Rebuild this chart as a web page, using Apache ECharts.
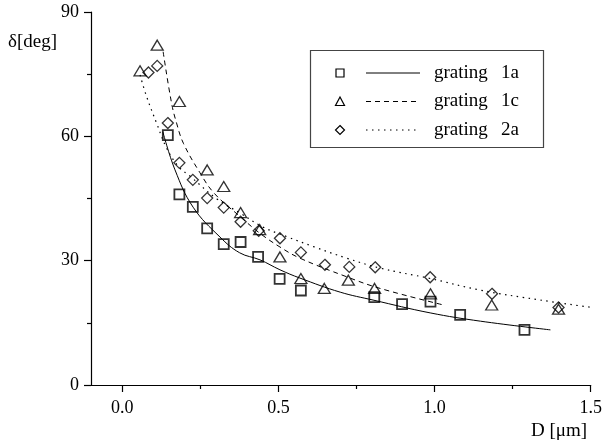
<!DOCTYPE html>
<html><head><meta charset="utf-8">
<script src="https://cdn.jsdelivr.net/npm/echarts@6/dist/echarts.min.js"></script>
<style>html,body{margin:0;padding:0;background:#fff}#c{width:610px;height:447px}</style>
</head><body><div id="c"></div>
<script>
// grating 1a (squares)
const sqX = [0.146,0.183,0.226,0.272,0.325,0.379,0.435,0.504,0.572,0.807,0.896,0.987,1.082,1.288];
const sqY = [60.3,46.0,43.0,37.8,34.0,34.5,30.9,25.6,22.8,21.2,19.5,20.1,16.9,13.3];
// grating 1c (triangles)
const trX = [0.057,0.112,0.183,0.272,0.325,0.379,0.440,0.505,0.572,0.647,0.724,0.808,0.987,1.183,1.397];
const trY = [75.8,82.0,68.4,51.9,47.9,41.6,37.5,30.9,25.7,23.3,25.3,23.3,22.0,19.3,18.3];
// grating 2a (diamonds)
const diX = [0.084,0.112,0.146,0.183,0.226,0.272,0.325,0.379,0.437,0.505,0.572,0.649,0.727,0.810,0.986,1.184,1.397];
const diY = [75.4,77.0,63.2,53.6,49.5,45.1,42.8,39.4,37.2,35.4,32.0,29.0,28.5,28.4,26.0,22.0,18.7];
// fitted curves
const fitAX = [0.130,0.169,0.227,0.313,0.376,0.441,0.505,0.569,0.698,0.803,0.986,1.147,1.371];
const fitAY = [61.1,51.9,42.9,35.7,31.9,30.2,27.8,25.8,22.4,20.5,17.4,15.4,13.3];
const fitCX = [0.131,0.158,0.174,0.196,0.249,0.294,0.378,0.441,0.505,0.569,0.719,0.826,1.029];
const fitCY = [80.4,68.0,63.2,58.3,51.2,46.3,40.6,36.6,33.3,30.6,26.1,23.3,19.3];
const fitDX = [0.057,0.078,0.110,0.142,0.179,0.217,0.303,0.377,0.451,0.527,0.612,0.719,0.826,0.986,1.146,1.339,1.500];
const fitDY = [74.8,69.6,63.2,57.2,52.8,50.4,44.9,41.5,38.1,35.8,33.4,30.6,28.2,25.7,22.9,20.5,18.75];
// ticks
const xMajor = [0, 0.5, 1.0, 1.5];
const xMinor = [0.25, 0.75, 1.25];
const seriesWord = ['grating','grating','grating'];
const seriesId = ['1a','1c','2a'];

const zip = (a,b) => a.map((v,i)=>[v,b[i]]);
const FONT = 'Liberation Serif';
const hollow = {color:'rgba(0,0,0,0)', borderColor:'#000', borderWidth:1.3};

const chart = echarts.init(document.getElementById('c'), null, {renderer:'canvas'});
const legendRows = [73, 101.5, 130];
const graphics = [
  {type:'rect', shape:{x:310.5,y:50.5,width:233,height:97}, style:{fill:'none', stroke:'#444', lineWidth:1.2}},
  {type:'text', style:{text:'δ[deg]', x:8, y:42, font:'19px '+FONT, fill:'#000', textVerticalAlign:'middle'}},
  {type:'text', style:{text:'D [μm]', x:531, y:431, font:'19px '+FONT, fill:'#000', textVerticalAlign:'middle'}}
];
const lineDash = [null, [5,4], [1.5,4.5]];
legendRows.forEach((y,i)=>{
  graphics.push({type:'line', shape:{x1:366,y1:y,x2:420,y2:y}, style:{stroke:'#000', lineWidth:1, lineDash:lineDash[i]}});
  graphics.push({type:'text', style:{text:seriesWord[i], x:434, y:y, font:'19px '+FONT, fill:'#000', textVerticalAlign:'middle'}});
  graphics.push({type:'text', style:{text:seriesId[i], x:501, y:y, font:'19px '+FONT, fill:'#000', textVerticalAlign:'middle'}});
});
graphics.push({type:'rect', shape:{x:336,y:legendRows[0]-4,width:8,height:8}, style:{fill:'none', stroke:'#000', lineWidth:1.2}});
graphics.push({type:'polygon', shape:{points:[[340,legendRows[1]-4.5],[344.5,legendRows[1]+4],[335.5,legendRows[1]+4]]}, style:{fill:'none', stroke:'#000', lineWidth:1.2}});
graphics.push({type:'polygon', shape:{points:[[340,legendRows[2]-4.5],[344.5,legendRows[2]],[340,legendRows[2]+4.5],[335.5,legendRows[2]]]}, style:{fill:'none', stroke:'#000', lineWidth:1.2}});

chart.setOption({
  animation:false,
  grid:{left:91, right:19.3, top:12, bottom:62, containLabel:false},
  xAxis:[{
    type:'value', min:-0.1, max:1.5,
    axisLine:{show:true, onZero:false, lineStyle:{color:'#000', width:1.2}},
    axisTick:{show:true, customValues:xMajor, length:7, lineStyle:{color:'#000', width:1.2}},
    axisLabel:{customValues:xMajor, formatter:v=>v.toFixed(1), color:'#000', fontFamily:FONT, fontSize:18, margin:14},
    splitLine:{show:false}
  },{
    type:'value', min:-0.1, max:1.5, position:'bottom',
    axisLine:{show:false},
    axisTick:{show:true, customValues:xMinor, length:4, lineStyle:{color:'#000', width:1.2}},
    axisLabel:{show:false}, splitLine:{show:false}
  }],
  yAxis:{
    type:'value', min:0, max:90, interval:30,
    axisLine:{show:true, onZero:false, lineStyle:{color:'#000', width:1.2}},
    axisTick:{show:true, length:7, lineStyle:{color:'#000', width:1.2}},
    minorTick:{show:true, splitNumber:2, length:4, lineStyle:{color:'#000', width:1.2}},
    axisLabel:{color:'#000', fontFamily:FONT, fontSize:18, margin:12},
    splitLine:{show:false}
  },
  graphic:graphics,
  series:[
    {type:'line', data:zip(fitAX,fitAY), showSymbol:false, smooth:0.4, lineStyle:{color:'#000', width:1}, silent:true},
    {type:'line', data:zip(fitCX,fitCY), showSymbol:false, smooth:0.4, lineStyle:{color:'#000', width:1, type:[5,4]}, silent:true},
    {type:'line', data:zip(fitDX,fitDY), showSymbol:false, smooth:0.4, lineStyle:{color:'#000', width:1.2, type:[1.5,4.5]}, silent:true},
    {name:'grating 1a', type:'scatter', data:zip(sqX,sqY), symbol:'rect', symbolSize:10, itemStyle:Object.assign({}, hollow, {borderWidth:1.8})},
    {name:'grating 1c', type:'scatter', data:zip(trX,trY), symbol:'triangle', symbolSize:[12,10], itemStyle:hollow},
    {name:'grating 2a', type:'scatter', data:zip(diX,diY), symbol:'diamond', symbolSize:[11,11], itemStyle:hollow}
  ]
});
</script></body></html>
